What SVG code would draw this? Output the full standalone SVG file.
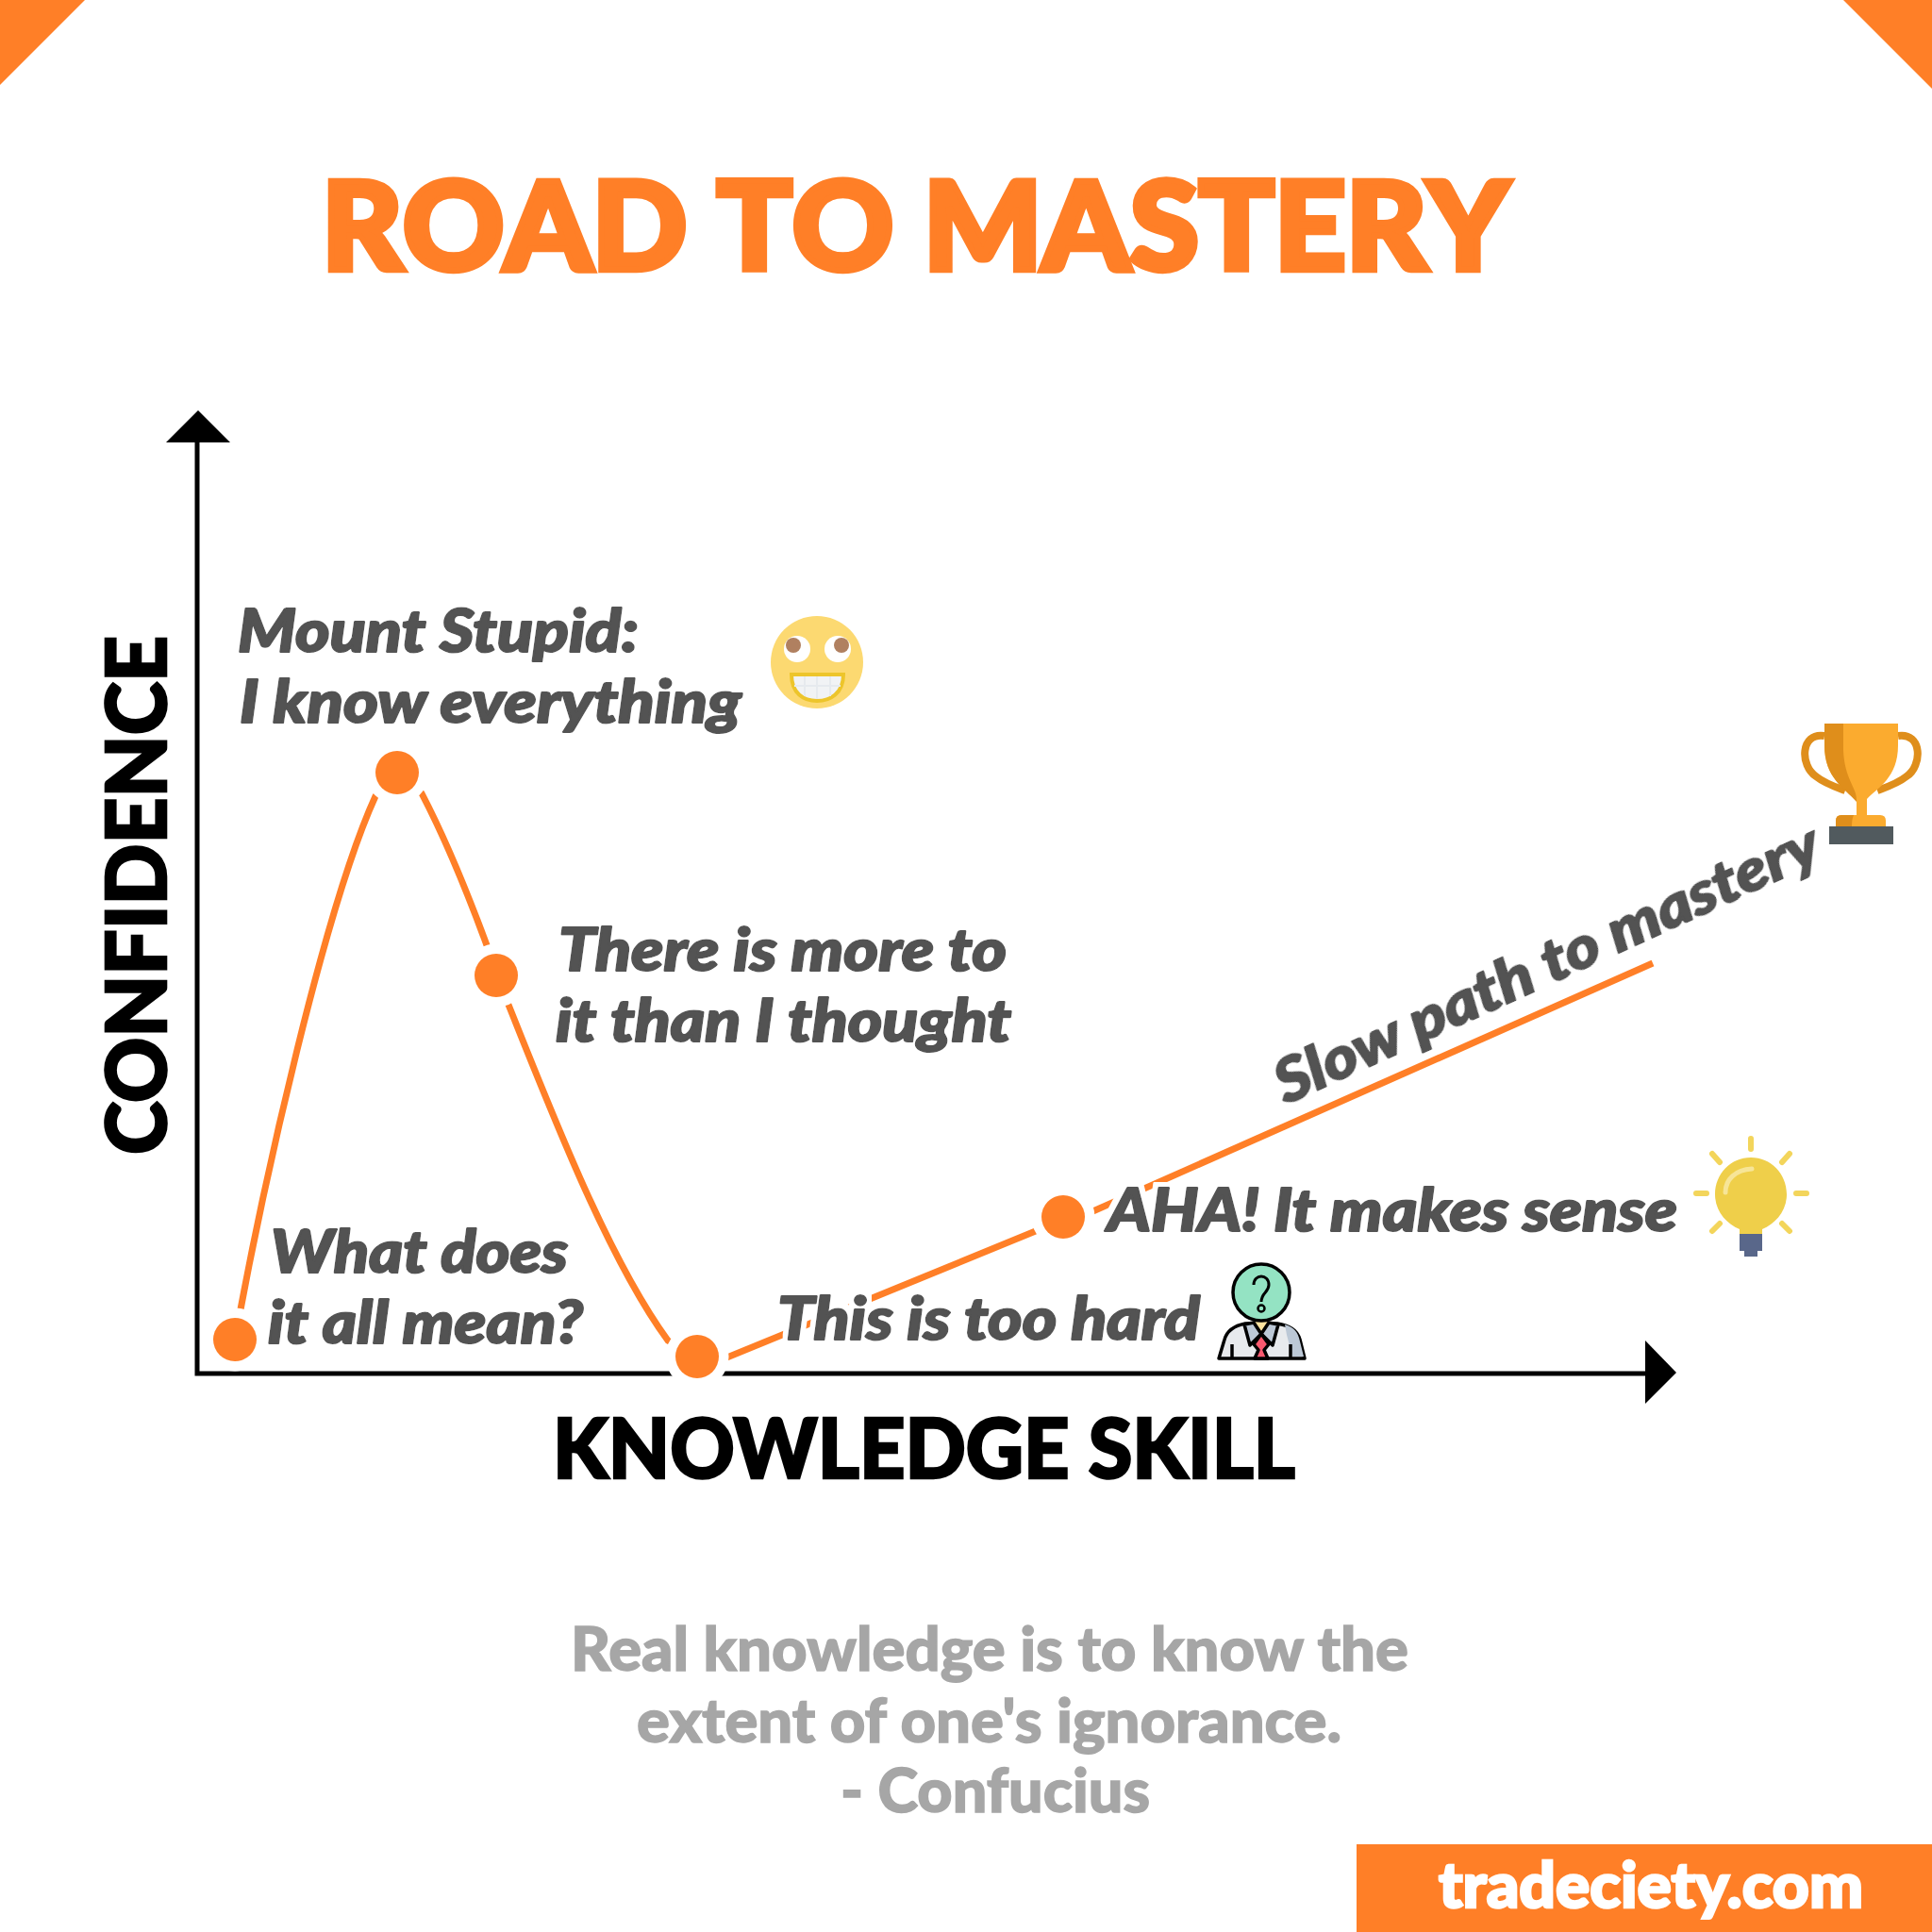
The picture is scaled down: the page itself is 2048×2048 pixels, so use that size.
<svg xmlns="http://www.w3.org/2000/svg" width="2048" height="2048" viewBox="0 0 2048 2048">
<defs>
<filter id="halo" x="-5%" y="-40%" width="110%" height="180%">
<feMorphology in="SourceAlpha" operator="dilate" radius="5" result="d"/>
<feFlood flood-color="#fff"/>
<feComposite in2="d" operator="in" result="w"/>
<feMerge><feMergeNode in="w"/><feMergeNode in="SourceGraphic"/></feMerge>
</filter>
</defs>
<style>
.o{fill:#ff7f27}
.line{fill:none;stroke:#ff7f27;stroke-width:7}
.dot{fill:#ff7f27;stroke:#fff;stroke-width:21;paint-order:stroke}
.lab{font-family:"Lato","Open Sans",sans-serif;font-weight:900;font-style:italic;font-size:63px;fill:#525252;stroke:#525252;stroke-width:2.2;stroke-linejoin:round;filter:url(#halo)}
.ax{font-family:"Lato","Open Sans",sans-serif;font-weight:900;font-size:87px;fill:#000;stroke:#000;stroke-width:2.6}
.q{font-family:"Lato","Open Sans",sans-serif;font-weight:900;font-size:64px;fill:#a6a6a6;stroke:#a6a6a6;stroke-width:1.4}
.ray{stroke:#f3d55b;stroke-width:6;stroke-linecap:round;fill:none}
.pk{stroke:#000;stroke-width:3.5;stroke-linejoin:round}
</style>
<rect width="2048" height="2048" fill="#fff"/>
<polygon class="o" points="0,0 90,0 0,90"/>
<polygon class="o" points="1954,0 2048,0 2048,94"/>
<text id="title" x="341" y="286" font-family="Lato,sans-serif" font-weight="900" font-size="130" class="o" stroke="#ff7f27" stroke-width="6.5" style="font-kerning:none" textLength="1259" lengthAdjust="spacingAndGlyphs">ROAD TO MASTERY</text>
<g id="axes">
<path d="M209 463V1456H1750" fill="none" stroke="#000" stroke-width="5"/>
<polygon points="176,469 210,435 244,469"/>
<polygon points="1744,1421 1777,1455 1744,1488"/>
<text class="ax" transform="translate(176 1224) rotate(-90)" textLength="550" lengthAdjust="spacingAndGlyphs">CONFIDENCE</text>
<text class="ax" x="586" y="1567" textLength="787" lengthAdjust="spacingAndGlyphs">KNOWLEDGE SKILL</text>
</g>
<g id="connectors">
<path class="line" d="M249 1420C280 1250 345 960 398 844L421 819"/>
<path class="line" d="M421 819L447 841C470 885 495 945 516 1002L526 1034L539 1065C585 1180 645 1335 708 1421L739 1438"/>
<path class="line" d="M739 1452L1127 1293"/>
<path class="line" d="M1127 1298L1752 1021"/>
</g>
<g id="node-start"><circle class="dot" cx="249" cy="1420" r="23"/></g>
<g id="node-peak"><circle class="dot" cx="421" cy="819" r="23"/></g>
<g id="node-more"><circle class="dot" cx="526" cy="1034" r="23"/></g>
<g id="node-low"><circle class="dot" cx="739" cy="1438" r="23"/></g>
<g id="node-aha"><circle class="dot" cx="1127" cy="1290" r="23"/></g>
<g id="labels">
<text class="lab" x="252" y="691" textLength="425" lengthAdjust="spacingAndGlyphs">Mount Stupid:</text>
<text class="lab" x="254" y="766" textLength="532" lengthAdjust="spacingAndGlyphs">I know everything</text>
<text class="lab" x="592" y="1029" textLength="475" lengthAdjust="spacingAndGlyphs">There is more to</text>
<text class="lab" x="589" y="1104" textLength="483" lengthAdjust="spacingAndGlyphs">it than I thought</text>
<text class="lab" x="287" y="1349" textLength="315" lengthAdjust="spacingAndGlyphs">What does</text>
<text class="lab" x="284" y="1424" textLength="334" lengthAdjust="spacingAndGlyphs">it all mean?</text>
<text class="lab" x="824" y="1420" textLength="448" lengthAdjust="spacingAndGlyphs">This is too hard</text>
<text class="lab" x="1174" y="1305" textLength="604" lengthAdjust="spacingAndGlyphs">AHA! It makes sense</text>
<text class="lab" transform="translate(1363 1171) rotate(-24.5)" textLength="628" lengthAdjust="spacingAndGlyphs">Slow path to mastery</text>
</g>
<g id="face">
<circle cx="866" cy="702" r="49" fill="#fcd971"/>
<circle cx="845" cy="688" r="14" fill="#fff"/><circle cx="888" cy="688" r="14" fill="#fff"/>
<circle cx="841" cy="684" r="8" fill="#b08060"/><circle cx="892" cy="684" r="8" fill="#b08060"/>
<path d="M839 715H894C894 735 880 743 866 743C852 743 839 735 839 715Z" fill="#f1f3f5" stroke="#edc52b" stroke-width="4"/>
<path d="M853 717V738M866 717V741M880 717V738M842 727H891" stroke="#e6eaee" stroke-width="2"/>
</g>
<g id="trophy">
<path d="M1934 780C1908 776 1908 812 1925 823C1935 831 1948 835 1956 838M2012 780C2038 776 2038 812 2021 823C2011 831 1998 835 1990 838" fill="none" stroke="#df8e1b" stroke-width="8"/>
<path d="M1934 767H2012V790C2012 825 1990 835 1979 847V864H1968V847C1955 835 1934 825 1934 790Z" fill="#fbab2f"/>
<path d="M1934 767H1954V795C1955 825 1968 835 1968 847V850C1955 835 1934 825 1934 790Z" fill="#df8e1b"/>
<path d="M1946 876V870Q1946 864 1952 864H1993Q1999 864 1999 870V876Z" fill="#fbab2f"/>
<path d="M1946 876V870Q1946 864 1952 864H1965Q1963 868 1963 876Z" fill="#df8e1b"/>
<rect x="1939" y="876" width="68" height="19" fill="#515a5e"/>
</g>
<g id="bulb">
<path d="M1856 1227C1835 1227 1818 1244 1818 1266C1818 1284 1830 1297 1844 1303V1309H1868V1303C1882 1297 1894 1284 1894 1266C1894 1244 1877 1227 1856 1227Z" fill="#efcf4a"/>
<rect x="1844" y="1308" width="24" height="18" fill="#59678a"/><rect x="1849" y="1326" width="14" height="6" fill="#59678a"/>
<path d="M1829 1264C1829 1250 1840 1240 1857 1239" fill="none" stroke="#f7e597" stroke-width="5" stroke-linecap="round"/>
<path class="ray" d="M1856 1207V1218M1798 1265H1809M1904 1265H1915M1815 1223L1823 1232M1897 1223L1889 1232M1815 1305L1823 1297M1897 1305L1889 1297"/>
</g>
<g id="person">
<path class="pk" d="M1292 1440L1298 1420C1301 1409 1310 1405 1320 1403L1354 1403C1366 1405 1375 1409 1378 1420L1383 1440Z" fill="#e8eaed"/>
<path d="M1362 1404C1372 1407 1376 1412 1378 1422L1382 1438H1370L1364 1415Z" fill="#bcc8d6"/>
<path d="M1329 1398H1345V1408L1337 1416L1329 1408Z" fill="#fde3a0"/>
<path class="pk" d="M1319 1404L1329 1402L1337 1414L1325 1426ZM1355 1404L1345 1402L1337 1414L1349 1426Z" fill="#bcc8d6"/>
<path class="pk" d="M1337 1414L1345 1425L1340 1431L1344 1440H1330L1334 1431L1329 1425Z" fill="#f9596f" stroke-width="2.5"/>
<path class="pk" d="M1306 1425V1440M1368 1425V1440" fill="none"/>
<ellipse cx="1337" cy="1370" rx="30" ry="30" fill="#94e3c3" stroke="#000" stroke-width="3.5"/>
<path d="M1329 1362C1329 1350 1345 1350 1345 1362C1345 1370 1337 1370 1337 1380" fill="none" stroke="#000" stroke-width="3"/>
<circle cx="1337" cy="1387" r="3.5" fill="none" stroke="#000" stroke-width="2.5"/>
</g>
<g id="quote">
<text class="q" x="605" y="1771" textLength="888" lengthAdjust="spacingAndGlyphs">Real knowledge is to know the</text>
<text class="q" x="675" y="1847" textLength="747" lengthAdjust="spacingAndGlyphs">extent of one's ignorance.</text>
<text class="q" x="891" y="1921" textLength="328" lengthAdjust="spacingAndGlyphs">- Confucius</text>
</g>
<g id="brand">
<rect class="o" x="1438" y="1955" width="610" height="93"/>
<text x="1525" y="2022" font-family="Lato,sans-serif" font-weight="900" font-size="66" fill="#fff" stroke="#fff" stroke-width="2.6" textLength="450" lengthAdjust="spacingAndGlyphs">tradeciety.com</text>
</g>
</svg>
